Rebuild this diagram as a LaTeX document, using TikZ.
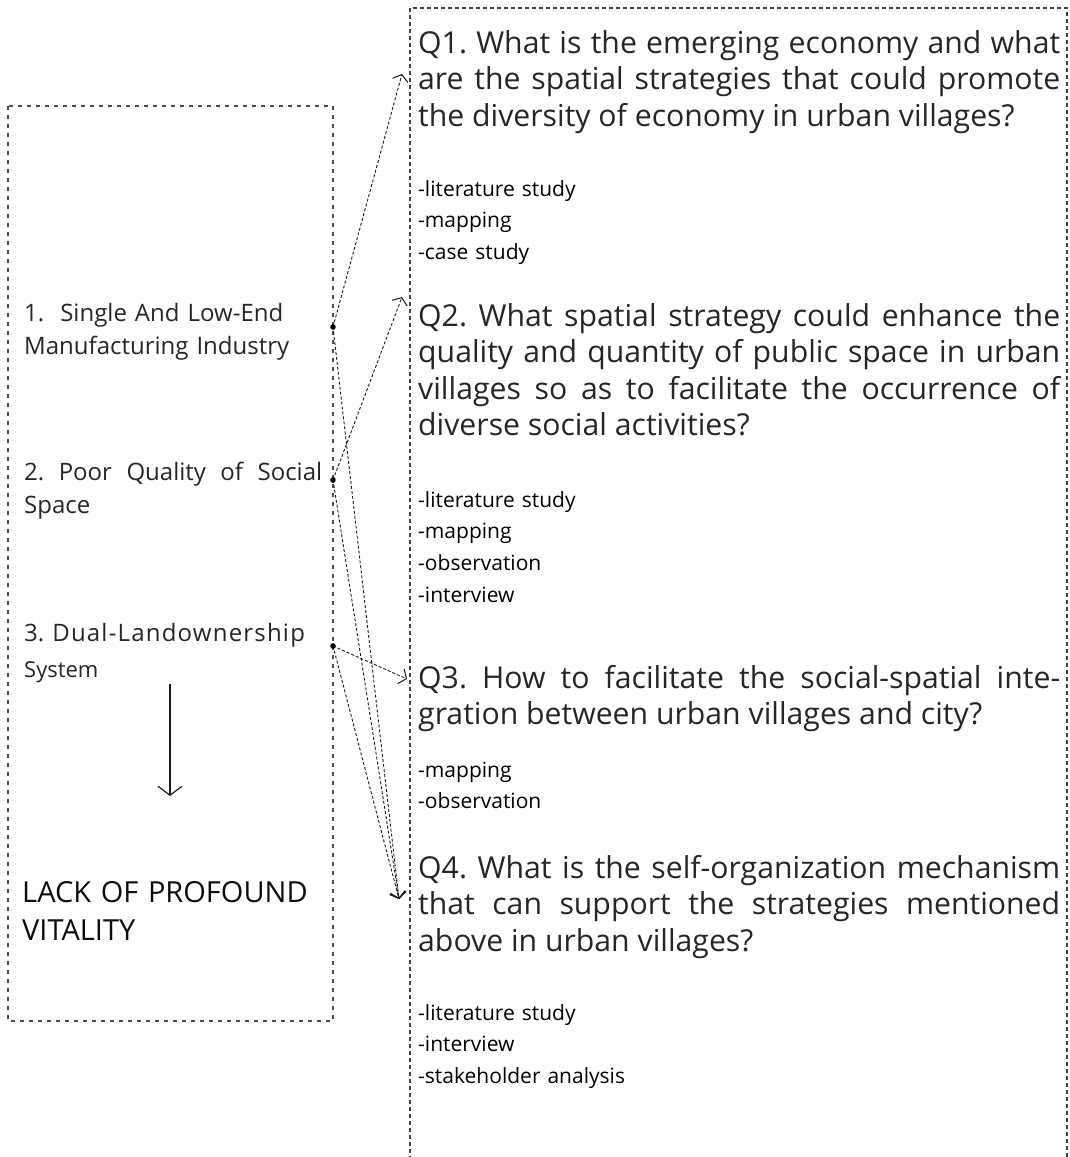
\documentclass[tikz,border=0pt]{standalone}
\usepackage{fontspec}
\setmainfont{Open Sans}
\usetikzlibrary{arrows.meta}

\begin{document}
\frenchspacing
\begin{tikzpicture}[x=1pt, y=-1pt,
    frame/.style={line width=1.1pt, color=black!70, dash pattern=on 4pt off 5pt},
    qframe/.style={line width=1.1pt, color=black!75, dash pattern=on 4pt off 3pt},
    link/.style={line width=0.9pt, color=black!90, dash pattern=on 3pt off 2pt,
        -{Straight Barb[length=6pt, width=16pt, line width=1pt]}},
    qtext/.style={anchor=base west, inner sep=0pt, text width=642pt, align=justify,
        color=black!85, font=\fontsize{30.2}{36.5}\selectfont},
    mtext/.style={anchor=base west, inner sep=0pt, text width=400pt, align=left,
        color=black, font=\fontsize{21}{31.8}\selectfont},
    ltext/.style={anchor=base west, inner sep=0pt, text width=298pt,
        color=black!85, font=\fontsize{24}{33}\selectfont}]
    %%%%% START %%%%%

    \useasboundingbox (0,0) rectangle (1070,1157);

    \draw[frame] (8,106) rectangle (333,1021);
    \draw[qframe] (410,1160) -- (410,8) -- (1067,8) -- (1067,1160);

    % left column
    \node[ltext, align=left] (p1) at (24,321) {1.\ \ Single And Low-End\\Manufacturing Industry};
    \node[ltext, align=justify] (p2) at (24,480) {2. Poor Quality of Social\linebreak Space};
    \node[ltext, align=left] (p3) at (24,641) {3. {\addfontfeature{LetterSpace=5}Dual-Landownership}\\[3pt]{\fontsize{22}{24}\selectfont System}};
    \node[ltext, align=left, color=black!95, font=\fontsize{29}{38}\selectfont] (lack) at (22,902) {LACK OF PROFOUND\\VITALITY};

    \coordinate (v1) at (170,684);
    \coordinate (v2) at (170,796);
    \draw[line width=1.2pt, color=black!90, -{Straight Barb[length=9pt, width=24pt, line width=1.2pt]}] (v1) -- (v2);

    % questions
    \node[qtext] (q1) at (418,53) {Q1. What is the emerging economy and what\linebreak are the spatial strategies that could promote\linebreak the diversity of economy in urban villages?};
    \node[mtext] (m1) at (418,196) {-literature study\\-mapping\\-case study};

    \node[qtext] (q2) at (418,326) {Q2. What spatial strategy could enhance the\linebreak quality and quantity of public space in urban\linebreak villages so as to facilitate the occurrence of\linebreak diverse social activities?};
    \node[mtext] (m2) at (418,507) {-literature study\\-mapping\\-observation\\-interview};

    \node[qtext] (q3) at (418,688) {Q3. How to facilitate the social-spatial inte-\linebreak gration between urban villages and city?};
    \node[mtext] (m3) at (418,777) {-mapping\\-observation};

    \node[qtext] (q4) at (418,878) {Q4. What is the self-organization mechanism\linebreak that can support the strategies mentioned\linebreak above in urban villages?};
    \node[mtext] (m4) at (418,1020) {-literature study\\-interview\\-stakeholder analysis};

    % links
    \coordinate (d1) at (333,327);
    \coordinate (d2) at (333,480);
    \coordinate (d3) at (333,646);
    \coordinate (t1) at (402,74);
    \coordinate (t2) at (402,297);
    \coordinate (t3) at (407,679);
    \coordinate (t4) at (399,899);

    \draw[link] (d1) -- (t1);
    \draw[link] (d1) -- (t4);
    \draw[link] (d2) -- (t2);
    \draw[link] (d2) -- (t4);
    \draw[link] (d3) -- (t3);
    \draw[link] (d3) -- (t4);

    \fill[black] (d1) circle (2.8);
    \fill[black] (d2) circle (2.8);
    \fill[black] (d3) circle (2.8);

    %%%%% END %%%%%
\end{tikzpicture}
\end{document}
